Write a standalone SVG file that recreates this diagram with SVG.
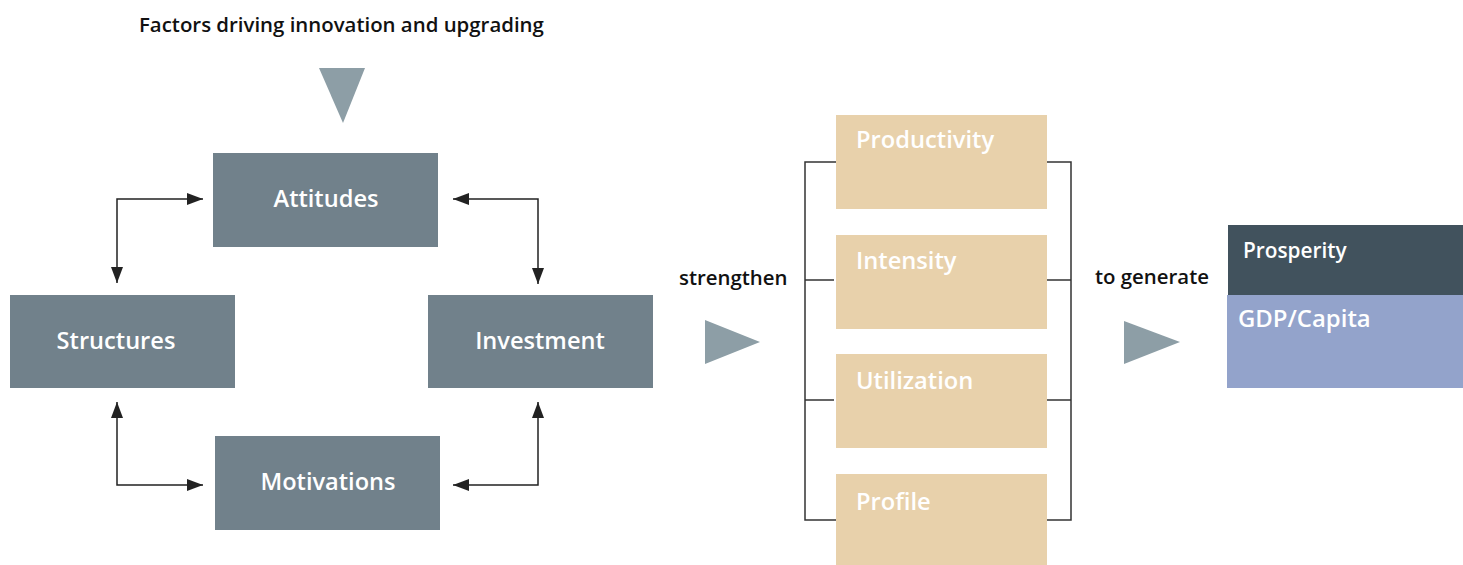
<svg xmlns="http://www.w3.org/2000/svg" width="1463" height="565" viewBox="0 0 1463 565">
  <style>
    .lbl { font-family: "Open Sans", "Liberation Sans", sans-serif; font-weight: 600; font-size: 20.4px; fill: #111; }
    .box { fill: #71818b; }
    .boxtxt { font-family: "Open Sans", "Liberation Sans", sans-serif; font-weight: 600; font-size: 23.6px; fill: #ffffff; text-anchor: middle; }
    .tan { fill: #e8d1ab; }
    .tantxt { font-family: "Open Sans", "Liberation Sans", sans-serif; font-weight: 600; font-size: 23.7px; fill: #ffffff; }
    .tri { fill: #8d9ea6; }
    .link { fill: none; stroke: #222; stroke-width: 1.5; }
    .bracket { fill: none; stroke: #333; stroke-width: 1.5; }
  </style>
  <defs>
    <marker id="head" viewBox="0 0 16 12" refX="16" refY="6" markerWidth="16" markerHeight="12" markerUnits="userSpaceOnUse" orient="auto-start-reverse">
      <path d="M0,0 L16,6 L0,12 Z" fill="#222"/>
    </marker>
  </defs>

  <text class="lbl" x="139" y="32">Factors driving innovation and upgrading</text>
  <polygon class="tri" points="319,68 365,68 343,123"/>

  <g id="attitudes">
    <rect class="box" x="213" y="153" width="225" height="94"/>
    <text class="boxtxt" x="326" y="207">Attitudes</text>
  </g>
  <g id="structures">
    <rect class="box" x="10" y="295" width="225" height="93"/>
    <text class="boxtxt" x="116" y="349">Structures</text>
  </g>
  <g id="investment">
    <rect class="box" x="428" y="295" width="225" height="93"/>
    <text class="boxtxt" x="540" y="349">Investment</text>
  </g>
  <g id="motivations">
    <rect class="box" x="215" y="436" width="225" height="94"/>
    <text class="boxtxt" x="328" y="490">Motivations</text>
  </g>

  <g id="connectors">
    <path class="link" d="M117,283 L117,199 L203,199" marker-start="url(#head)" marker-end="url(#head)"/>
    <path class="link" d="M453,199 L538,199 L538,284" marker-start="url(#head)" marker-end="url(#head)"/>
    <path class="link" d="M117,402 L117,485 L203,485" marker-start="url(#head)" marker-end="url(#head)"/>
    <path class="link" d="M453,485 L538,485 L538,402" marker-start="url(#head)" marker-end="url(#head)"/>
    <path class="bracket" d="M836,162 H805 V520 H836 M805,280 H834 M805,400 H834"/>
    <path class="bracket" d="M1047,162 H1071 V520 H1047 M1047,280 H1071 M1047,400 H1071"/>
  </g>

  <text class="lbl" x="679" y="285">strengthen</text>
  <polygon class="tri" points="705,320 760,342 705,364"/>

  <g id="productivity">
    <rect class="tan" x="836" y="115" width="211" height="94"/>
    <text class="tantxt" x="856" y="148">Productivity</text>
  </g>
  <g id="intensity">
    <rect class="tan" x="836" y="235" width="211" height="94"/>
    <text class="tantxt" x="856" y="269">Intensity</text>
  </g>
  <g id="utilization">
    <rect class="tan" x="836" y="354" width="211" height="94"/>
    <text class="tantxt" x="856" y="389">Utilization</text>
  </g>
  <g id="profile">
    <rect class="tan" x="836" y="474" width="211" height="91"/>
    <text class="tantxt" x="856" y="510">Profile</text>
  </g>

  <text class="lbl" x="1095" y="284">to generate</text>
  <polygon class="tri" points="1124,321 1180,342 1124,364"/>

  <g id="prosperity">
    <rect x="1228" y="225" width="235" height="70" fill="#41525d"/>
    <text x="1243" y="258" font-family="Open Sans, Liberation Sans, sans-serif" font-weight="600" font-size="20.8" fill="#ffffff">Prosperity</text>
  </g>
  <g id="gdp">
    <rect x="1227" y="295" width="236" height="93" fill="#93a3cb"/>
    <text x="1238" y="327" font-family="Open Sans, Liberation Sans, sans-serif" font-weight="600" font-size="23.9" fill="#ffffff">GDP/Capita</text>
  </g>
</svg>
